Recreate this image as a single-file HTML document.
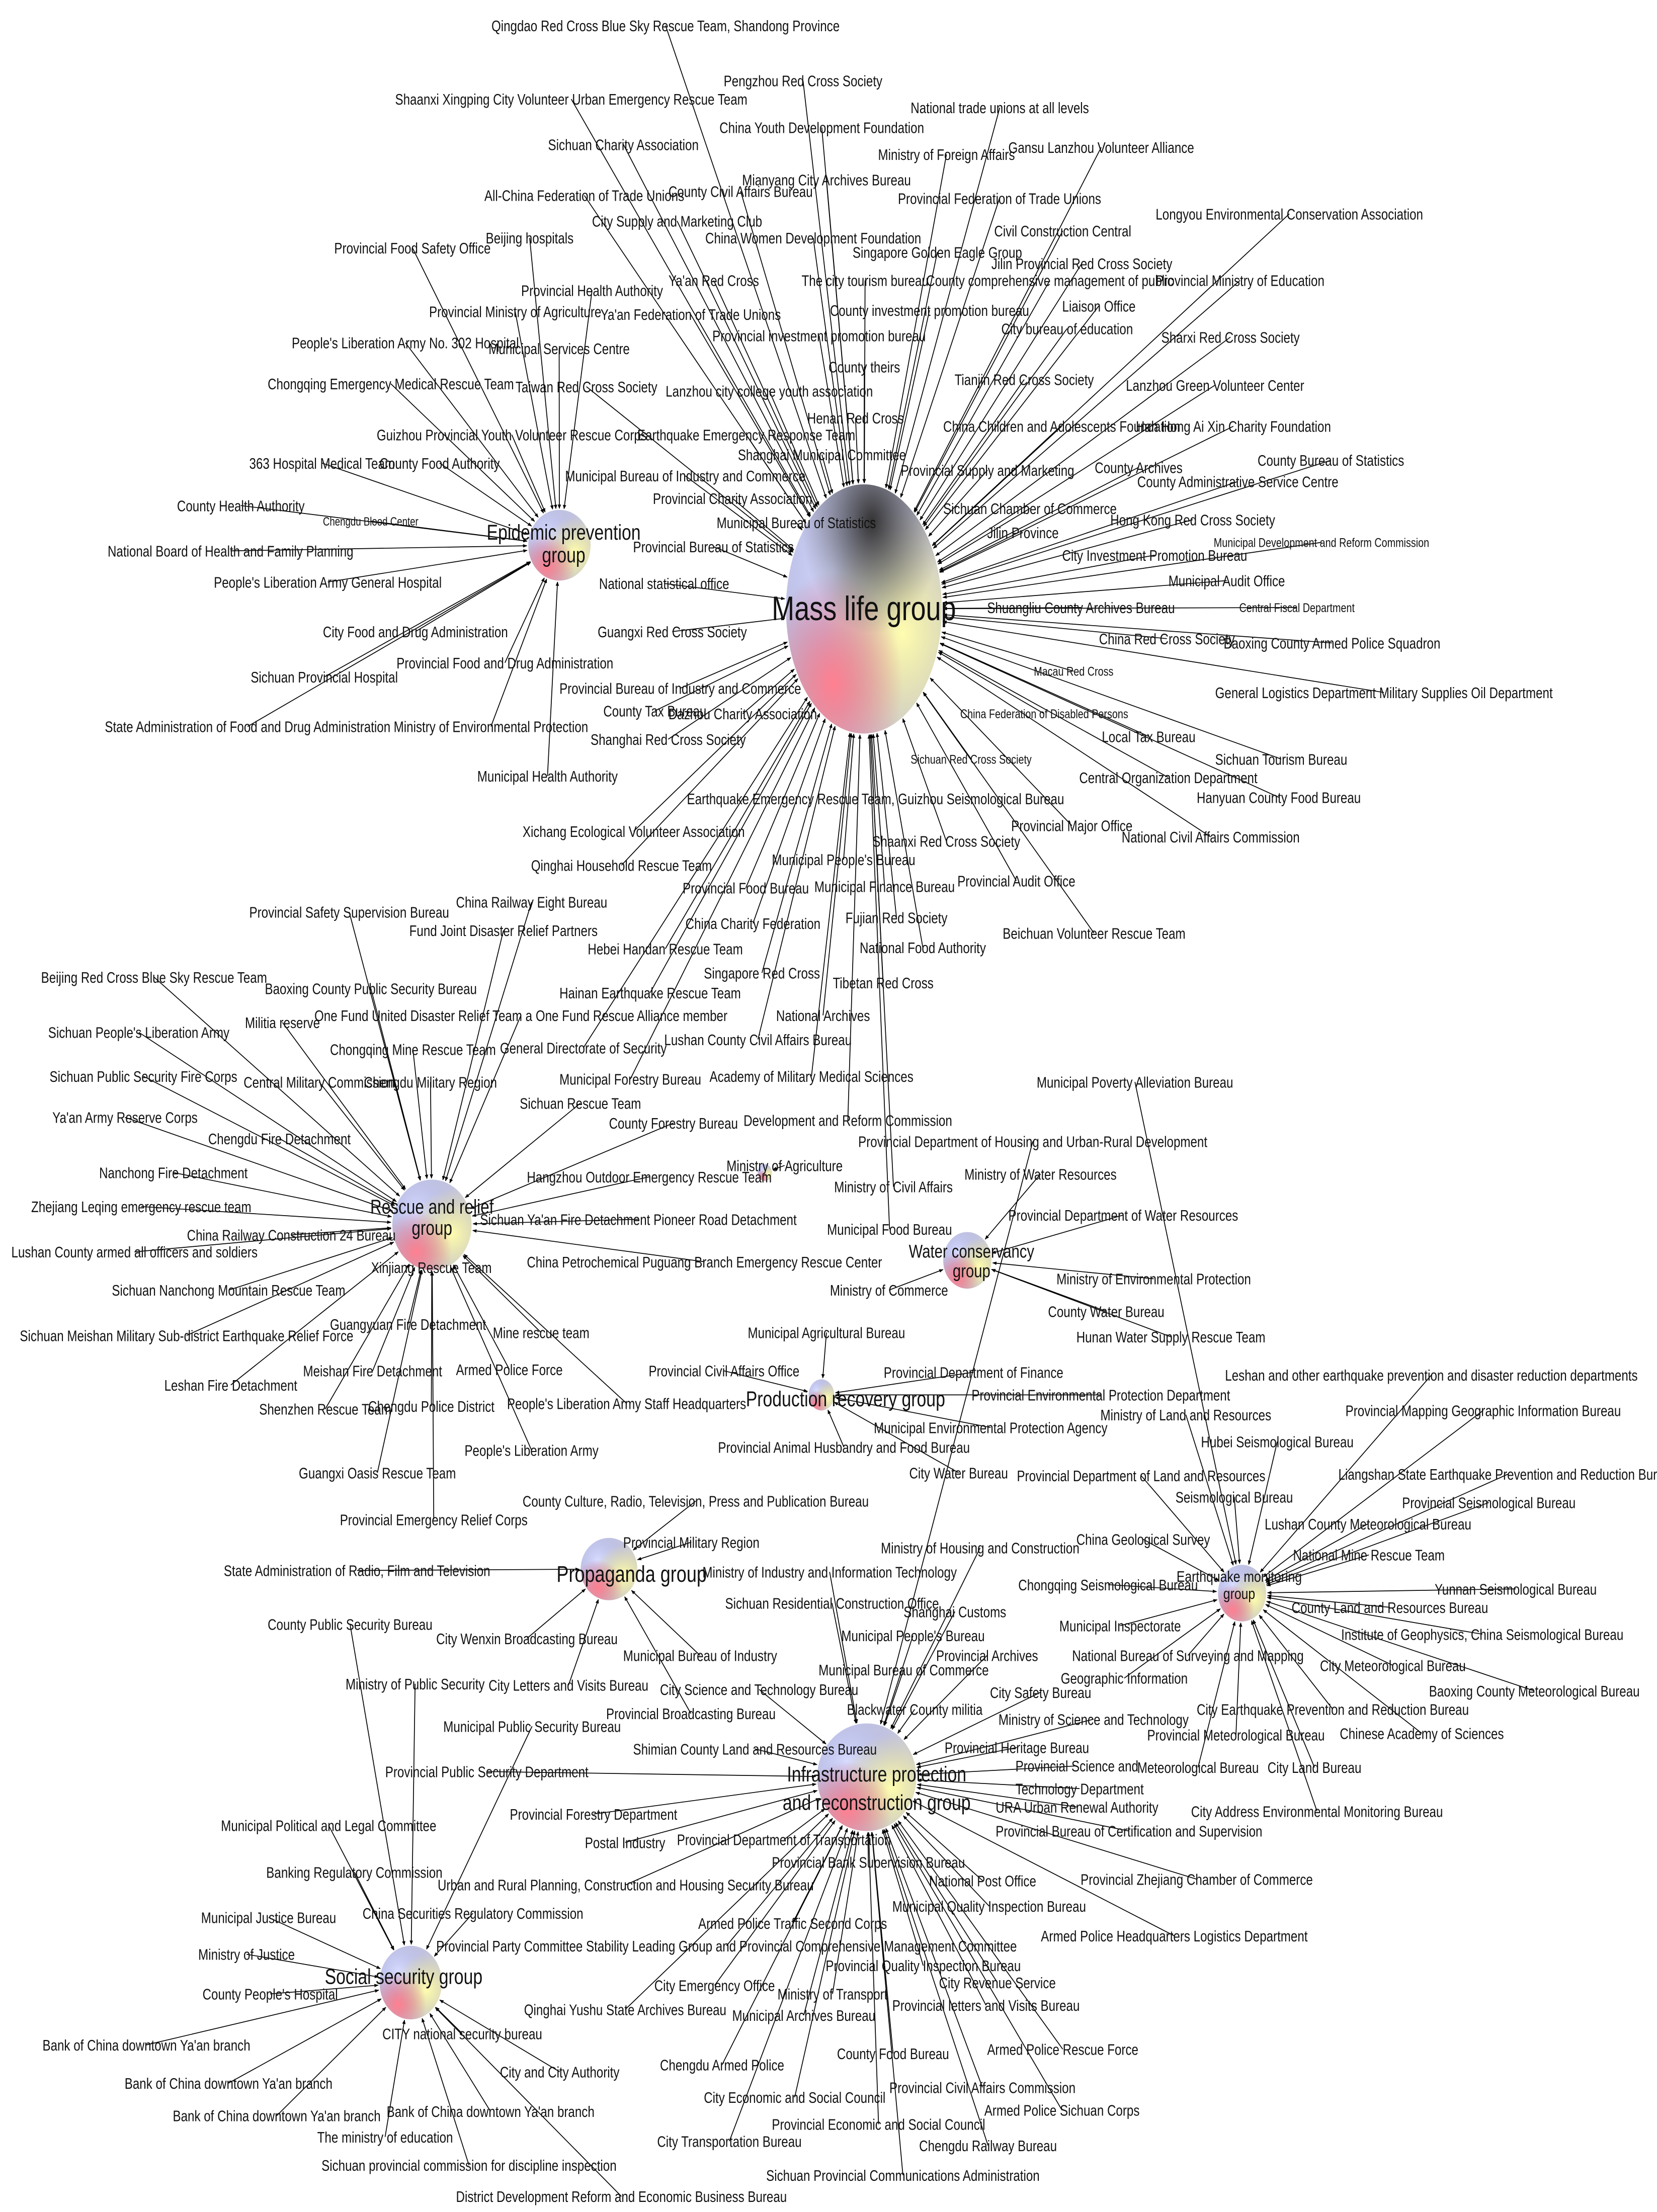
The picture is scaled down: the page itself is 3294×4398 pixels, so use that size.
<!DOCTYPE html>
<html><head><meta charset="utf-8">
<style>
html,body{margin:0;padding:0;background:#fff;}
svg{display:block;}
text{font-family:"Liberation Sans",sans-serif;fill:#111;}
</style></head>
<body>
<svg id="s" xmlns="http://www.w3.org/2000/svg" width="3294" height="4398" viewBox="0 0 1170 1562" preserveAspectRatio="none">
<defs>
<marker id="ar" viewBox="0 0 10 10" refX="9" refY="5" markerWidth="5" markerHeight="5" orient="auto"><path d="M0,1 L10,5 L0,9 z" fill="#000"/></marker>
<radialGradient id="gB" cx="0.3" cy="0.35" r="0.6"><stop offset="0" stop-color="#d8dcff"/><stop offset="1" stop-color="#9aa0e8" stop-opacity="0"/></radialGradient>
<radialGradient id="gY" cx="0.75" cy="0.6" r="0.5"><stop offset="0" stop-color="#fffdb0"/><stop offset="1" stop-color="#f0ea80" stop-opacity="0"/></radialGradient>
<radialGradient id="gR" cx="0.3" cy="0.8" r="0.45"><stop offset="0" stop-color="#ff8090"/><stop offset="1" stop-color="#e06070" stop-opacity="0"/></radialGradient>
<radialGradient id="gD" cx="0.55" cy="0.15" r="0.45"><stop offset="0" stop-color="#333"/><stop offset="1" stop-color="#555" stop-opacity="0"/></radialGradient>
</defs>
<g id="lines" stroke="#000" stroke-width="0.6" fill="none"></g>
<g id="hubs"></g>
<g id="labels"></g>
<g id="hl"></g>
</svg>
<script>
var NS="http://www.w3.org/2000/svg";
var SX=0.78;
var H={
M:[610,430,55,88],E:[395,385,22,25],R:[305,865,28,32],W:[683,890,17,20],P:[580,985,9,11],
Pr:[430,1108,20,22],Q:[877,1125,17,20],I:[612,1255,35,38],S:[290,1400,22,26],A:[540,828,5,6]};
var L=[
["Qingdao Red Cross Blue Sky Rescue Team, Shandong Province",347,18,"M"],
["Pengzhou Red Cross Society",511,57,"M"],
["Shaanxi Xingping City Volunteer Urban Emergency Rescue Team",279,70,"M"],
["China Youth Development Foundation",508,90,"M"],
["National trade unions at all levels",643,76,"M"],
["Sichuan Charity Association",387,102,"M"],
["Ministry of Foreign Affairs",620,109,"M"],
["Gansu Lanzhou Volunteer Alliance",712,104,"M"],
["Mianyang City Archives Bureau",524,127,"M"],
["All-China Federation of Trade Unions",342,138,"M"],
["County Civil Affairs Bureau",472,135,"M"],
["Provincial Federation of Trade Unions",634,140,"M"],
["Longyou Environmental Conservation Association",816,151,"M"],
["City Supply and Marketing Club",418,156,"M"],
["China Women Development Foundation",498,168,"M"],
["Civil Construction Central",702,163,"M"],
["Beijing hospitals",343,168,"E"],
["Provincial Food Safety Office",236,175,"E"],
["Singapore Golden Eagle Group",602,178,"M"],
["Jilin Provincial Red Cross Society",700,186,"M"],
["Provincial Ministry of Education",816,198,"M"],
["Ya'an Red Cross",472,198,"M"],
["The city tourism bureau",566,198,"M"],
["County comprehensive management of public",654,198,"M"],
["Provincial Health Authority",368,205,"E"],
["Liaison Office",750,216,"M"],
["Provincial Ministry of Agriculture",303,220,"E"],
["Ya'an Federation of Trade Unions",424,222,"M"],
["County investment promotion bureau",586,219,"M"],
["City bureau of education",707,232,"M"],
["Provincial investment promotion bureau",503,237,"M"],
["Sharxi Red Cross Society",820,238,"M"],
["People's Liberation Army No. 302 Hospital",206,242,"E"],
["Municipal Services Centre",345,246,"E"],
["County theirs",585,259,"M"],
["Tianjin Red Cross Society",674,268,"M"],
["Chongqing Emergency Medical Rescue Team",189,271,"E"],
["Taiwan Red Cross Society",364,273,"M"],
["Lanzhou city college youth association",470,276,"M"],
["Lanzhou Green Volunteer Center",795,272,"M"],
["Henan Red Cross",570,295,"M"],
["Guizhou Provincial Youth Volunteer Rescue Corps",266,307,"E"],
["Earthquake Emergency Response Team",450,307,"M"],
["China Children and Adolescents Foundation",666,301,"M"],
["Han Hong Ai Xin Charity Foundation",802,301,"M"],
["363 Hospital Medical Team",176,327,"E"],
["County Food Authority",268,327,"E"],
["Shanghai Municipal Committee",521,321,"M"],
["County Bureau of Statistics",888,325,"M"],
["Provincial Supply and Marketing",636,332,"M"],
["County Archives",773,330,"M"],
["Municipal Bureau of Industry and Commerce",399,336,"M"],
["County Administrative Service Centre",803,340,"M"],
["Provincial Charity Association",461,352,"M"],
["Sichuan Chamber of Commerce",666,359,"M"],
["Hong Kong Red Cross Society",784,367,"M"],
["County Health Authority",125,357,"E"],
["Chengdu Blood Center",228,368,"E",8.5],
["Municipal Bureau of Statistics",506,369,"M"],
["Jilin Province",697,376,"M"],
["Municipal Development and Reform Commission",857,383,"M",9],
["Provincial Bureau of Statistics",447,386,"M"],
["National Board of Health and Family Planning",76,389,"E"],
["City Investment Promotion Bureau",750,392,"M"],
["People's Liberation Army General Hospital",151,411,"E"],
["National statistical office",423,412,"M"],
["Municipal Audit Office",825,410,"M"],
["Shuangliu County Archives Bureau",697,429,"M"],
["Central Fiscal Department",875,429,"M",9],
["Guangxi Red Cross Society",422,446,"M"],
["City Food and Drug Administration",228,446,"E"],
["China Red Cross Society",776,451,"M"],
["Baoxing County Armed Police Squadron",864,454,"M"],
["Provincial Food and Drug Administration",280,468,"E"],
["Sichuan Provincial Hospital",177,478,"E"],
["Macau Red Cross",730,474,"M",9],
["Provincial Bureau of Industry and Commerce",395,486,"M"],
["General Logistics Department Military Supplies Oil Department",858,489,"M"],
["Dazhou Charity Association",472,504,"M"],
["County Tax Bureau",426,502,"M"],
["China Federation of Disabled Persons",678,504,"M",9],
["State Administration of Food and Drug Administration",74,513,"E"],
["Ministry of Environmental Protection",278,513,"E"],
["Shanghai Red Cross Society",417,522,"M"],
["Local Tax Bureau",778,520,"M"],
["Sichuan Red Cross Society",643,536,"M",9],
["Sichuan Tourism Bureau",858,536,"M"],
["Central Organization Department",762,549,"M"],
["Municipal Health Authority",337,548,"E"],
["Hanyuan County Food Bureau",845,563,"M"],
["Earthquake Emergency Rescue Team, Guizhou Seismological Bureau",485,564,"M"],
["Xichang Ecological Volunteer Association",369,587,"M"],
["Provincial Major Office",714,583,"M"],
["National Civil Affairs Commission",792,591,"M"],
["Shaanxi Red Cross Society",616,594,"M"],
["Qinghai Household Rescue Team",375,611,"M"],
["Municipal People's Bureau",545,607,"M"],
["China Railway Eight Bureau",322,637,"R"],
["Provincial Safety Supervision Bureau",176,644,"R"],
["Provincial Food Bureau",482,627,"M"],
["Municipal Finance Bureau",575,626,"M"],
["Provincial Audit Office",676,622,"M"],
["Fujian Red Society",597,648,"M"],
["China Charity Federation",484,652,"M"],
["Beichuan Volunteer Rescue Team",708,659,"M"],
["Fund Joint Disaster Relief Partners",289,657,"R"],
["Hebei Handan Rescue Team",415,670,"M"],
["National Food Authority",607,669,"M"],
["Beijing Red Cross Blue Sky Rescue Team",29,690,"R"],
["Baoxing County Public Security Bureau",187,698,"R"],
["Singapore Red Cross",497,687,"M"],
["Tibetan Red Cross",588,694,"M"],
["One Fund United Disaster Relief Team a One Fund Rescue Alliance member",222,717,"R"],
["Hainan Earthquake Rescue Team",395,701,"M"],
["Militia reserve",173,722,"R"],
["Sichuan People's Liberation Army",34,729,"R"],
["National Archives",548,717,"M"],
["Chongqing Mine Rescue Team",233,741,"R"],
["General Directorate of Security",353,740,"M"],
["Lushan County Civil Affairs Bureau",469,734,"M"],
["Sichuan Public Security Fire Corps",35,760,"R"],
["Central Military Commission",172,764,"R"],
["Chengdu Military Region",257,764,"R"],
["Municipal Forestry Bureau",395,762,"M"],
["Academy of Military Medical Sciences",501,760,"M"],
["Municipal Poverty Alleviation Bureau",732,764,"Q"],
["Ya'an Army Reserve Corps",37,789,"R"],
["Sichuan Rescue Team",367,779,"R"],
["Development and Reform Commission",525,791,"M"],
["County Forestry Bureau",430,793,"R"],
["Chengdu Fire Detachment",147,804,"R"],
["Provincial Department of Housing and Urban-Rural Development",606,806,"I"],
["Nanchong Fire Detachment",70,828,"R"],
["Hangzhou Outdoor Emergency Rescue Team",372,831,"R"],
["Ministry of Agriculture",513,823,"A"],
["Ministry of Water Resources",681,829,"W"],
["Ministry of Civil Affairs",589,838,"M"],
["Zhejiang Leqing emergency rescue team",22,852,"R"],
["Provincial Department of Water Resources",712,858,"W"],
["Sichuan Ya'an Fire Detachment Pioneer Road Detachment",339,861,"R"],
["China Railway Construction 24 Bureau",132,872,"R"],
["Municipal Food Bureau",584,868,"M"],
["Lushan County armed all officers and soldiers",8,884,"R"],
["Xinjiang Rescue Team",262,895,"R"],
["China Petrochemical Puguang Branch Emergency Rescue Center",372,891,"R"],
["Ministry of Environmental Protection",746,903,"W"],
["Sichuan Nanchong Mountain Rescue Team",79,911,"R"],
["Ministry of Commerce",586,911,"W"],
["County Water Bureau",740,926,"W"],
["Guangyuan Fire Detachment",233,935,"R"],
["Mine rescue team",348,941,"R"],
["Sichuan Meishan Military Sub-district Earthquake Relief Force",14,943,"R"],
["Municipal Agricultural Bureau",528,941,"P"],
["Hunan Water Supply Rescue Team",760,944,"W"],
["Leshan Fire Detachment",116,978,"R"],
["Meishan Fire Detachment",214,968,"R"],
["Armed Police Force",322,967,"R"],
["Provincial Civil Affairs Office",458,968,"P"],
["Provincial Department of Finance",624,969,"P"],
["Leshan and other earthquake prevention and disaster reduction departments",865,971,"Q"],
["Shenzhen Rescue Team",183,995,"R"],
["Chengdu Police District",260,993,"R"],
["People's Liberation Army Staff Headquarters",358,991,"R"],
["Provincial Environmental Protection Department",686,985,"P"],
["Provincial Mapping Geographic Information Bureau",950,996,"Q"],
["Ministry of Land and Resources",777,999,"Q"],
["Municipal Environmental Protection Agency",617,1008,"P"],
["Hubei Seismological Bureau",848,1018,"Q"],
["Provincial Animal Husbandry and Food Bureau",507,1022,"P"],
["People's Liberation Army",328,1024,"R"],
["Guangxi Oasis Rescue Team",211,1040,"R"],
["City Water Bureau",642,1040,"P"],
["Provincial Department of Land and Resources",718,1042,"Q"],
["Liangshan State Earthquake Prevention and Reduction Bureau",945,1041,"Q"],
["Seismological Bureau",830,1057,"Q"],
["Provincial Seismological Bureau",990,1061,"Q"],
["County Culture, Radio, Television, Press and Publication Bureau",369,1060,"Pr"],
["Lushan County Meteorological Bureau",893,1076,"Q"],
["Provincial Emergency Relief Corps",240,1073,"R"],
["Ministry of Housing and Construction",622,1093,"I"],
["China Geological Survey",760,1087,"Q"],
["Provincial Military Region",440,1089,"Pr"],
["National Mine Rescue Team",913,1098,"Q"],
["State Administration of Radio, Film and Television",158,1109,"Pr"],
["Ministry of Industry and Information Technology",496,1110,"I"],
["Chongqing Seismological Bureau",719,1119,"Q"],
["Yunnan Seismological Bureau",1013,1122,"Q"],
["County Land and Resources Bureau",912,1135,"Q"],
["Sichuan Residential Construction Office",512,1132,"I"],
["Shanghai Customs",638,1138,"I"],
["Municipal Inspectorate",748,1148,"Q"],
["County Public Security Bureau",189,1147,"S"],
["Institute of Geophysics, China Seismological Bureau",947,1154,"Q"],
["City Wenxin Broadcasting Bureau",308,1157,"Pr"],
["Municipal People's Bureau",594,1155,"I"],
["National Bureau of Surveying and Mapping",757,1169,"Q"],
["Municipal Bureau of Industry",440,1169,"Pr"],
["Provincial Archives",661,1169,"I"],
["City Meteorological Bureau",932,1176,"Q"],
["Geographic Information",749,1185,"Q"],
["Municipal Bureau of Commerce",578,1179,"I"],
["Ministry of Public Security",244,1189,"S"],
["City Letters and Visits Bureau",345,1190,"Pr"],
["City Science and Technology Bureau",466,1193,"I"],
["Blackwater County militia",598,1207,"I"],
["City Safety Bureau",699,1195,"I"],
["Baoxing County Meteorological Bureau",1009,1194,"Q"],
["City Earthquake Prevention and Reduction Bureau",845,1207,"Q"],
["Provincial Broadcasting Bureau",428,1210,"Pr"],
["Ministry of Science and Technology",705,1214,"I"],
["Chinese Academy of Sciences",946,1224,"Q"],
["Provincial Meteorological Bureau",810,1225,"Q"],
["Municipal Public Security Bureau",313,1219,"S"],
["Shimian County Land and Resources Bureau",447,1235,"I"],
["Provincial Heritage Bureau",667,1234,"I"],
["Provincial Science and",717,1247,"I"],
["Meteorological Bureau",803,1248,"Q"],
["City Land Bureau",895,1248,"Q"],
["Provincial Public Security Department",272,1251,"I"],
["Technology Department",717,1263,"I"],
["URA Urban Renewal Authority",703,1276,"I"],
["City Address Environmental Monitoring Bureau",841,1279,"Q"],
["Provincial Forestry Department",360,1281,"I"],
["Municipal Political and Legal Committee",156,1289,"S"],
["Provincial Bureau of Certification and Supervision",703,1293,"I"],
["Postal Industry",413,1301,"I"],
["Provincial Department of Transportation",478,1299,"I"],
["Provincial Bank Supervision Bureau",545,1315,"I"],
["Banking Regulatory Commission",188,1322,"S"],
["Provincial Zhejiang Chamber of Commerce",763,1327,"I"],
["Urban and Rural Planning, Construction and Housing Security Bureau",309,1331,"I"],
["National Post Office",656,1328,"I"],
["China Securities Regulatory Commission",256,1351,"S"],
["Municipal Quality Inspection Bureau",630,1346,"I"],
["Municipal Justice Bureau",142,1354,"S"],
["Armed Police Traffic Second Corps",493,1358,"I"],
["Armed Police Headquarters Logistics Department",735,1367,"I"],
["Provincial Party Committee Stability Leading Group and Provincial Comprehensive Management Committee",308,1374,"I"],
["Ministry of Justice",140,1380,"S"],
["Provincial Quality Inspection Bureau",583,1388,"I"],
["Qinghai Yushu State Archives Bureau",370,1419,"I"],
["City Emergency Office",462,1402,"I"],
["County People's Hospital",143,1408,"S"],
["City Revenue Service",663,1400,"I"],
["Ministry of Transport",549,1408,"I"],
["Provincial letters and Visits Bureau",630,1416,"I"],
["Municipal Archives Bureau",517,1423,"I"],
["CITY national security bureau",270,1436,"S"],
["Bank of China downtown Ya'an branch",30,1444,"S"],
["Armed Police Rescue Force",697,1447,"I"],
["County Food Bureau",591,1450,"I"],
["Chengdu Armed Police",466,1458,"I"],
["City and City Authority",353,1463,"S"],
["Bank of China downtown Ya'an branch",88,1471,"S"],
["Provincial Civil Affairs Commission",628,1474,"I"],
["City Economic and Social Council",497,1481,"I"],
["Armed Police Sichuan Corps",695,1490,"I"],
["Bank of China downtown Ya'an branch",122,1494,"S"],
["Bank of China downtown Ya'an branch",273,1491,"S"],
["Chengdu Railway Bureau",649,1515,"I"],
["Provincial Economic and Social Council",545,1500,"I"],
["The ministry of education",224,1509,"S"],
["City Transportation Bureau",464,1512,"I"],
["Sichuan provincial commission for discipline inspection",227,1529,"S"],
["Sichuan Provincial Communications Administration",541,1536,"I"],
["District Development Reform and Economic Business Bureau",322,1551,"S"]
];
function el(n,a,p){var e=document.createElementNS(NS,n);for(var k in a)e.setAttribute(k,a[k]);p.appendChild(e);return e;}
var gl=document.getElementById("lines"),gh=document.getElementById("hubs"),gt=document.getElementById("labels"),ghl=document.getElementById("hl");
L.forEach(function(l){
 var fs=l[4]||11;
 var t=el("text",{x:0,y:0,"font-size":fs,transform:"translate("+l[1]+","+(l[2]+fs*0.36)+") scale("+SX+",1)"},gt);t.textContent=l[0];
 var w;try{w=t.getComputedTextLength()*SX;}catch(e){w=l[0].length*4.6;}
 var h=H[l[3]];
 var sx=l[1]+w/2, sy=l[2];
 var dx=h[0]-sx, dy=h[1]-sy, d=Math.sqrt(dx*dx+dy*dy)||1;
 var ux=dx/d, uy=dy/d;
 var rr=1/Math.sqrt((ux*ux)/(h[2]*h[2])+(uy*uy)/(h[3]*h[3]));
 var ex=h[0]-ux*(rr+1), ey=h[1]-uy*(rr+1);
 el("line",{x1:sx,y1:sy,x2:ex,y2:ey,"marker-end":"url(#ar)"},gl);
});
function hub(k,dark){var h=H[k];
 el("ellipse",{cx:h[0],cy:h[1],rx:h[2],ry:h[3],fill:"#c8c8dc"},gh);
 el("ellipse",{cx:h[0],cy:h[1],rx:h[2],ry:h[3],fill:"url(#gB)"},gh);
 el("ellipse",{cx:h[0],cy:h[1],rx:h[2],ry:h[3],fill:"url(#gY)"},gh);
 el("ellipse",{cx:h[0],cy:h[1],rx:h[2],ry:h[3],fill:"url(#gR)"},gh);
 if(dark)el("ellipse",{cx:h[0],cy:h[1],rx:h[2],ry:h[3],fill:"url(#gD)"},gh);
}
["E","R","W","P","Pr","Q","I","S","A"].forEach(function(k){hub(k,false)});
hub("M",true);
function hl(txt,x,y,fs){var t=el("text",{x:0,y:0,"font-size":fs,"text-anchor":"middle",transform:"translate("+x+","+y+") scale(0.8,1)"},ghl);t.textContent=txt;}
hl("Mass life group",610,438,24);
hl("Epidemic prevention",398,381,15);hl("group",398,397,15);
hl("Rescue and relief",305,857,14);hl("group",305,872,14);
hl("Water conservancy",686,888,13);hl("group",686,902,13);
hl("Production recovery group",597,993,15);
hl("Propaganda group",446,1117,16);
hl("Earthquake monitoring",875,1117,11);hl("group",875,1129,11);
hl("Infrastructure protection",619,1258,15);hl("and reconstruction group",619,1278,15);
hl("Social security group",285,1401,15);
</script>
</body></html>
